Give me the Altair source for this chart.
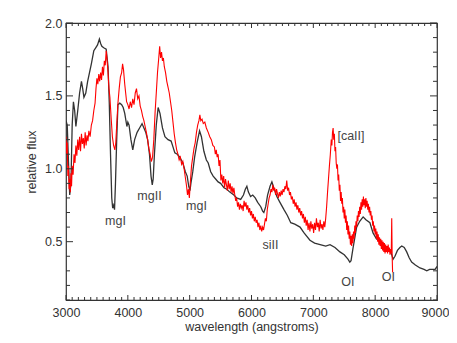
import altair as alt
import pandas as pd

# ---- black spectrum (wavelength, relative flux) ----
black_wl = [3000, 3020, 3040, 3060, 3080, 3100, 3120, 3140, 3160, 3190, 3220, 3250, 3270, 3290,
            3320, 3350, 3380, 3410, 3450, 3480, 3510, 3540, 3560, 3580, 3610, 3650, 3680, 3700,
            3720, 3740, 3755, 3770, 3785, 3800, 3820, 3840, 3870, 3900, 3925, 3950, 3985, 4000,
            4020, 4050, 4080, 4110, 4150, 4190, 4230, 4260, 4290, 4320, 4350, 4375, 4395, 4410,
            4430, 4460, 4490, 4520, 4560, 4600, 4650, 4700, 4730, 4760, 4800, 4840, 4890, 4930,
            4960, 4985, 5005, 5020, 5050, 5080, 5120, 5160, 5190, 5230, 5270, 5300, 5340, 5380,
            5420, 5460, 5500, 5555, 5600, 5650, 5715, 5760, 5825, 5870, 5900, 5925, 5950, 5985,
            6020, 6060, 6100, 6150, 6180, 6200, 6230, 6260, 6300, 6330, 6360, 6410, 6460, 6525,
            6580, 6635, 6700, 6785, 6850, 6945, 7020, 7110, 7200, 7270, 7350, 7430, 7500, 7560,
            7590, 7610, 7640, 7700, 7750, 7805, 7850, 7915, 7965, 8020, 8080, 8150, 8210, 8260,
            8290, 8320, 8360, 8400, 8430, 8470, 8510, 8550, 8590, 8650, 8725, 8790, 8835, 8880,
            8940, 8970, 9000]
black_flux = [1.33, 1.30, 1.05, 0.82, 0.90, 1.30, 1.46, 1.40, 1.29, 1.40, 1.52, 1.60, 1.55, 1.49,
              1.52, 1.60, 1.66, 1.72, 1.81, 1.83, 1.85, 1.89, 1.86, 1.84, 1.83, 1.82, 1.70, 1.45,
              1.10, 0.80, 0.73, 0.75, 0.72, 0.90, 1.20, 1.44, 1.45, 1.44, 1.42, 1.38, 1.29, 1.32,
              1.30, 1.20, 1.13, 1.20, 1.25, 1.28, 1.31, 1.28, 1.25, 1.20, 1.10, 0.95, 0.89, 0.93,
              1.10, 1.30, 1.42, 1.38, 1.28, 1.22, 1.20, 1.19, 1.15, 1.11, 1.10, 1.08, 1.04, 0.98,
              0.95, 0.88, 0.85, 0.90, 0.98, 1.08, 1.18, 1.26, 1.22, 1.12, 1.06, 1.04, 0.98, 0.95,
              0.93, 0.91, 0.90, 0.87, 0.86, 0.84, 0.82, 0.80, 0.79, 0.82, 0.86, 0.88, 0.84, 0.81,
              0.82, 0.80, 0.77, 0.74, 0.71, 0.70, 0.74, 0.82, 0.88, 0.91, 0.87, 0.81, 0.77, 0.72,
              0.68, 0.63, 0.62, 0.60, 0.56, 0.51, 0.49, 0.48, 0.47, 0.48, 0.46, 0.43, 0.41, 0.38,
              0.36, 0.37, 0.45, 0.60, 0.64, 0.67, 0.65, 0.63, 0.56, 0.52, 0.50, 0.47, 0.45, 0.42,
              0.38, 0.40, 0.44, 0.46, 0.47, 0.46, 0.43, 0.39, 0.36, 0.34, 0.32, 0.31, 0.30, 0.31,
              0.31, 0.31, 0.33]

# ---- red spectrum (wavelength, relative flux) pairs ----
red_points = [
    (3000, 1.22), (3010, 1.10), (3020, 1.18), (3030, 0.95), (3040, 1.02), (3050, 0.86),
    (3060, 0.93), (3070, 0.84), (3080, 0.97), (3090, 0.88), (3100, 1.02), (3115, 0.96),
    (3130, 1.10), (3145, 1.04), (3160, 1.16), (3175, 1.09), (3190, 1.20), (3205, 1.13),
    (3220, 1.22), (3235, 1.12), (3250, 1.24), (3265, 1.17), (3280, 1.21), (3295, 1.14),
    (3310, 1.25), (3325, 1.16), (3340, 1.23), (3355, 1.19), (3370, 1.26), (3390, 1.22),
    (3410, 1.30), (3430, 1.33), (3450, 1.40), (3470, 1.45), (3485, 1.55), (3500, 1.62),
    (3515, 1.58), (3530, 1.65), (3545, 1.60), (3560, 1.66), (3575, 1.61), (3590, 1.70),
    (3605, 1.64), (3620, 1.74), (3635, 1.71), (3650, 1.81), (3665, 1.74), (3680, 1.66),
    (3695, 1.55), (3710, 1.49), (3730, 1.35), (3750, 1.22), (3770, 1.16), (3790, 1.13),
    (3805, 1.18), (3820, 1.30), (3840, 1.45), (3860, 1.55), (3880, 1.63), (3900, 1.66),
    (3915, 1.72), (3930, 1.68), (3950, 1.58), (3965, 1.52), (3980, 1.46), (4000, 1.44),
    (4020, 1.41), (4040, 1.46), (4060, 1.42), (4080, 1.48), (4100, 1.44), (4120, 1.52),
    (4140, 1.55), (4160, 1.48), (4180, 1.50), (4200, 1.43), (4220, 1.40), (4240, 1.36),
    (4260, 1.33), (4280, 1.29), (4300, 1.25), (4320, 1.20), (4340, 1.14), (4360, 1.10),
    (4380, 1.05), (4400, 1.08), (4420, 1.20), (4440, 1.38), (4460, 1.52), (4480, 1.66),
    (4500, 1.76), (4515, 1.84), (4530, 1.76), (4545, 1.80), (4560, 1.74), (4575, 1.76),
    (4590, 1.70), (4610, 1.66), (4630, 1.60), (4650, 1.56), (4670, 1.52), (4690, 1.46),
    (4710, 1.40), (4730, 1.32), (4750, 1.24), (4770, 1.18), (4790, 1.13), (4810, 1.10),
    (4830, 1.06), (4850, 1.08), (4870, 1.03), (4890, 1.05), (4910, 1.00), (4930, 0.94),
    (4950, 0.88), (4965, 0.82), (4980, 0.86), (4995, 0.80), (5010, 0.90), (5030, 1.02),
    (5050, 1.08), (5070, 1.14), (5090, 1.18), (5110, 1.25), (5130, 1.30), (5150, 1.33),
    (5165, 1.37), (5180, 1.33), (5200, 1.34), (5220, 1.31), (5245, 1.32), (5270, 1.28),
    (5300, 1.25), (5325, 1.22), (5350, 1.20), (5375, 1.16),
    (5400, 1.15), (5415, 1.10), (5430, 1.13), (5445, 1.08), (5460, 1.10), (5475, 1.02),
    (5490, 1.06), (5505, 0.92), (5520, 0.96), (5535, 0.90), (5550, 0.95), (5565, 0.87),
    (5580, 0.93), (5595, 0.89), (5610, 0.85), (5625, 0.92), (5640, 0.86), (5655, 0.90),
    (5670, 0.84), (5685, 0.88), (5700, 0.83), (5715, 0.87), (5730, 0.82), (5745, 0.78),
    (5760, 0.80), (5775, 0.74), (5790, 0.77), (5805, 0.72), (5820, 0.76), (5835, 0.73),
    (5850, 0.75), (5865, 0.71), (5880, 0.78), (5895, 0.74), (5910, 0.77), (5925, 0.72),
    (5940, 0.75), (5955, 0.70), (5970, 0.73), (5985, 0.68), (6000, 0.71), (6015, 0.66),
    (6030, 0.69), (6045, 0.64), (6060, 0.67), (6075, 0.63), (6090, 0.65), (6105, 0.60),
    (6120, 0.63), (6135, 0.58), (6150, 0.61), (6165, 0.57), (6180, 0.60), (6195, 0.58),
    (6210, 0.62), (6225, 0.66), (6240, 0.64), (6255, 0.72), (6270, 0.76), (6285, 0.80),
    (6300, 0.82), (6315, 0.86), (6330, 0.84), (6345, 0.89), (6360, 0.85), (6375, 0.87),
    (6390, 0.82), (6405, 0.86), (6420, 0.83), (6435, 0.80), (6450, 0.84), (6465, 0.81),
    (6480, 0.85), (6495, 0.82), (6510, 0.86), (6525, 0.84), (6540, 0.88), (6555, 0.86),
    (6570, 0.92), (6585, 0.85), (6600, 0.87), (6615, 0.82), (6630, 0.84), (6645, 0.79),
    (6660, 0.81), (6675, 0.76), (6690, 0.79), (6705, 0.74), (6720, 0.77), (6735, 0.72),
    (6750, 0.75), (6765, 0.70), (6780, 0.73), (6795, 0.68), (6810, 0.71), (6825, 0.66),
    (6840, 0.69), (6855, 0.63), (6870, 0.67), (6885, 0.61), (6900, 0.65), (6915, 0.58),
    (6930, 0.63), (6945, 0.57), (6960, 0.64), (6975, 0.59), (6990, 0.62), (7005, 0.56),
    (7020, 0.63), (7035, 0.58), (7050, 0.66), (7065, 0.60), (7080, 0.63), (7095, 0.57),
    (7110, 0.65), (7125, 0.59), (7140, 0.62), (7155, 0.58), (7170, 0.64), (7185, 0.60),
    (7200, 0.66), (7215, 0.74), (7230, 0.84), (7245, 0.93), (7260, 1.02), (7275, 1.10),
    (7290, 1.20), (7300, 1.16), (7310, 1.25), (7320, 1.28), (7330, 1.20), (7340, 1.24),
    (7350, 1.12), (7360, 1.15), (7370, 1.04), (7380, 1.00), (7390, 1.03), (7400, 0.92),
    (7410, 0.96), (7420, 0.85), (7430, 0.89), (7440, 0.78), (7450, 0.84), (7460, 0.76),
    (7470, 0.80), (7480, 0.70), (7490, 0.74), (7500, 0.66), (7510, 0.72), (7520, 0.63),
    (7530, 0.68), (7540, 0.58), (7550, 0.64), (7560, 0.55), (7570, 0.61), (7580, 0.52),
    (7590, 0.57), (7600, 0.48), (7610, 0.54), (7620, 0.47), (7630, 0.55), (7640, 0.49),
    (7650, 0.57), (7660, 0.52), (7670, 0.61), (7680, 0.56), (7690, 0.64), (7700, 0.60),
    (7710, 0.68), (7720, 0.64), (7730, 0.71), (7740, 0.67), (7750, 0.74), (7760, 0.69),
    (7770, 0.77), (7780, 0.72), (7790, 0.79), (7800, 0.74), (7810, 0.81), (7820, 0.75),
    (7830, 0.79), (7840, 0.73), (7850, 0.80), (7860, 0.74), (7870, 0.78), (7880, 0.72),
    (7890, 0.76), (7900, 0.70), (7910, 0.74), (7920, 0.68), (7930, 0.71), (7940, 0.65),
    (7950, 0.68), (7960, 0.61), (7970, 0.64), (7980, 0.57), (7990, 0.61), (8000, 0.55),
    (8010, 0.59), (8020, 0.52), (8030, 0.57), (8040, 0.50), (8050, 0.55), (8060, 0.48),
    (8070, 0.53), (8080, 0.47), (8090, 0.52), (8100, 0.45), (8110, 0.51), (8120, 0.44),
    (8130, 0.50), (8140, 0.43), (8150, 0.49), (8160, 0.42), (8170, 0.48), (8180, 0.43),
    (8190, 0.47), (8200, 0.42), (8210, 0.48), (8220, 0.43), (8230, 0.46), (8240, 0.41),
    (8250, 0.45), (8260, 0.42), (8268, 0.66), (8275, 0.40), (8282, 0.29),
]

# ---- line annotations ----
label_text = ["mgI", "mgII", "mgI", "siII", "[caII]", "OI", "OI"]
label_wl = [3800, 4350, 5110, 6307, 7609, 7557, 8212]
label_flux = [0.616, 0.783, 0.714, 0.45, 1.199, 0.199, 0.228]

# ---- axes ----
x_major = [3000, 4000, 5000, 6000, 7000, 8000, 9000]
y_major = [0.5, 1.0, 1.5, 2.0]
x_minor = [v for v in range(3100, 9000, 100) if v % 1000 != 0]
y_minor = [round(0.1 * i, 1) for i in range(1, 20) if i % 5 != 0]

W, H = 371, 277
FONT = "Liberation Sans"
INK = "#333333"
FS = 12.5

black_df = pd.DataFrame({"wl": black_wl, "flux": black_flux})
red_df = pd.DataFrame(red_points, columns=["wl", "flux"])
lab_df = pd.DataFrame({"wl": label_wl, "flux": label_flux, "t": label_text})

xs = alt.Scale(domain=[3000, 9000], nice=False, zero=False)
ys = alt.Scale(domain=[0.1, 2.0], nice=False, zero=False)

x_axis = alt.Axis(values=x_major, format="d", title="wavelength (angstroms)", ticks=False,
                  tickSize=0, domain=False, grid=False, labelPadding=6, titlePadding=2,
                  labelFont=FONT, titleFont=FONT, labelFontSize=FS, titleFontSize=FS,
                  labelColor=INK, titleColor=INK, titleFontWeight="normal", labelFlush=False,
                  labelOffset={"condition": {"test": "datum.value == 9000", "value": -2},
                               "value": 0})
y_axis = alt.Axis(values=y_major, format=".1f", title="relative flux", ticks=False,
                  tickSize=0, domain=False, grid=False, labelPadding=4, titlePadding=6,
                  labelFont=FONT, titleFont=FONT, labelFontSize=FS, titleFontSize=FS,
                  labelColor=INK, titleColor=INK, titleFontWeight="normal", labelFlush=False)

black = alt.Chart(black_df).mark_line(color="#333333", strokeWidth=1.3, clip=True).encode(
    x=alt.X("wl:Q", scale=xs, axis=x_axis),
    y=alt.Y("flux:Q", scale=ys, axis=y_axis),
)
red = alt.Chart(red_df).mark_line(color="#ff0000", strokeWidth=1.1, clip=True).encode(
    x=alt.X("wl:Q", scale=xs),
    y=alt.Y("flux:Q", scale=ys),
)
labels = alt.Chart(lab_df).mark_text(font=FONT, fontSize=FS, color="#444444",
                                     align="center", baseline="alphabetic").encode(
    x=alt.X("wl:Q", scale=xs),
    y=alt.Y("flux:Q", scale=ys),
    text="t:N",
)


def xticks(vals, length):
    d = pd.DataFrame({"v": vals})
    bot = alt.Chart(d).mark_rule(color=INK, strokeWidth=1).encode(
        x=alt.X("v:Q", scale=xs), y=alt.value(H), y2=alt.value(H - length))
    top = alt.Chart(d).mark_rule(color=INK, strokeWidth=1).encode(
        x=alt.X("v:Q", scale=xs), y=alt.value(0), y2=alt.value(length))
    return [bot, top]


def yticks(vals, length):
    d = pd.DataFrame({"v": vals})
    left = alt.Chart(d).mark_rule(color=INK, strokeWidth=1).encode(
        y=alt.Y("v:Q", scale=ys), x=alt.value(0), x2=alt.value(length))
    right = alt.Chart(d).mark_rule(color=INK, strokeWidth=1).encode(
        y=alt.Y("v:Q", scale=ys), x=alt.value(W), x2=alt.value(W - length))
    return [left, right]


layers = [black, red, labels]
layers += xticks(x_major, 5) + xticks(x_minor, 3)
layers += yticks(y_major, 7) + yticks(y_minor, 4)

chart = alt.layer(*layers).properties(
    width=W, height=H,
    autosize=alt.AutoSizeParams(type="none"),
    padding={"left": 58, "top": 15, "right": 12, "bottom": 35},
    background="white",
).configure_view(stroke=INK, strokeWidth=1.2)

chart.save("out.html", embed_options={"renderer": "svg", "actions": False})
